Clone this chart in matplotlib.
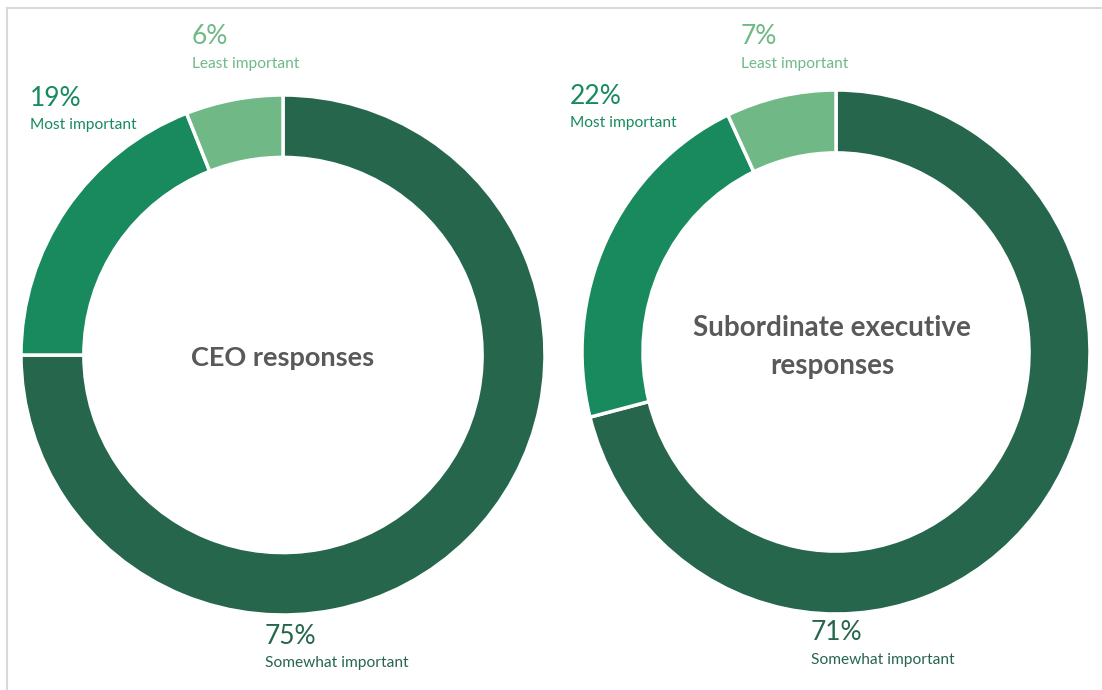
import matplotlib.pyplot as plt
from matplotlib.lines import Line2D

# data
categories = ['Somewhat important', 'Most important', 'Least important']
ceo_values = [75, 19, 6]
sub_values = [71, 22, 7]
colors = ['#26664D', '#188A5E', '#70B987']
text_gray = '#595959'

W, H = 1102, 690
plt.rcParams['font.family'] = ['Lato', 'DejaVu Sans']
fig = plt.figure(figsize=(W / 100, H / 100), dpi=100)


def fx(x):
    return x / W


def fy(y):
    return 1 - y / H


# light frame (top and left edges only)
frame = dict(transform=fig.transFigure, color='#D9D9D9', linewidth=1.5)
fig.lines.append(Line2D([fx(7), fx(1102)], [fy(8), fy(8)], **frame))
fig.lines.append(Line2D([fx(7), fx(7)], [fy(8), fy(690)], **frame))


def donut(cx, cy, rx, ry, values):
    ax = fig.add_axes([fx(cx - rx), fy(cy + ry), 2 * rx / W, 2 * ry / H])
    ax.pie(values, colors=colors, startangle=90, counterclock=False, radius=1,
           wedgeprops=dict(width=0.24, edgecolor='white', linewidth=2.5))
    ax.set_aspect('auto')
    ax.set_xlim(-1, 1)
    ax.set_ylim(-1, 1)
    ax.axis('off')
    return ax


donut(283, 355, 262, 260, ceo_values)
donut(836, 352, 254, 262, sub_values)


def label(x, y, pct, name, color):
    fig.text(fx(x), fy(y), f'{pct}%', color=color, fontsize=19,
             ha='left', va='center')
    fig.text(fx(x), fy(y + 27), name, color=color, fontsize=11.2,
             ha='left', va='center')


# CEO labels
label(30, 98, ceo_values[1], categories[1], colors[1])
label(192, 37, ceo_values[2], categories[2], colors[2])
label(265, 636, ceo_values[0], categories[0], colors[0])

# subordinate labels
label(570, 96, sub_values[1], categories[1], colors[1])
label(741, 37, sub_values[2], categories[2], colors[2])
label(811, 633, sub_values[0], categories[0], colors[0])

fig.text(fx(283), fy(358), 'CEO responses', color=text_gray, fontsize=19.5,
         fontweight='bold', ha='center', va='center')
fig.text(fx(832), fy(347), 'Subordinate executive\nresponses', color=text_gray,
         fontsize=20, fontweight='bold', ha='center', va='center',
         linespacing=1.6)

fig.savefig('out.png', dpi=100)
